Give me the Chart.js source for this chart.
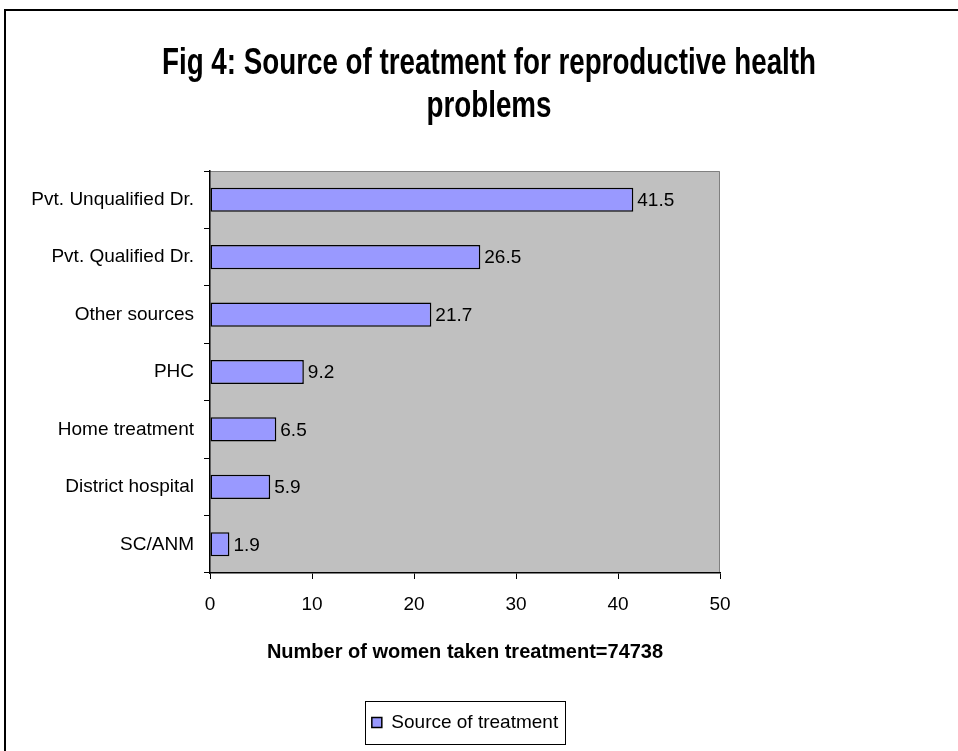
<!DOCTYPE html>
<html>
<head>
<meta charset="utf-8">
<script src="https://cdn.jsdelivr.net/npm/chart.js@4.4.1/dist/chart.umd.min.js"></script>
<style>
  html, body { margin: 0; padding: 0; background: #ffffff; }
  #wrap { position: relative; width: 958px; height: 751px; overflow: hidden; }
  #frame { position: absolute; left: 4px; top: 9px; width: 1000px; height: 800px;
           border-left: 2px solid #000; border-top: 2px solid #000; box-sizing: border-box; }
  canvas { position: absolute; left: 0; top: 0; }
</style>
</head>
<body>
<div id="wrap">
  <div id="frame"></div>
  <canvas id="c" width="958" height="751"></canvas>
</div>
<script>
// Treatment sources, listed top to bottom
const categories = [
  'Pvt. Unqualified Dr.',
  'Pvt. Qualified Dr.',
  'Other sources',
  'PHC',
  'Home treatment',
  'District hospital',
  'SC/ANM'
];
// Share of women (%) using each source
const shares = [41.5, 26.5, 21.7, 9.2, 6.5, 5.9, 1.9];
const xTicks = [0, 10, 20, 30, 40, 50];

const seriesName = 'Source of treatment';
const titleLines = ['Fig 4: Source of treatment for reproductive health', 'problems'];
const axisTitle = 'Number of women taken treatment=74738';

const FONT = "'Liberation Sans', Arial, sans-serif";

// Chart heading: tall bold face set slightly condensed
const headingPlugin = {
  id: 'heading',
  afterDraw(chart) {
    const { ctx } = chart;
    const size = 36, centerX = 489, widthLine1 = 654;
    const baselines = [74, 117];
    ctx.save();
    ctx.font = 'bold ' + size + 'px ' + FONT;
    const squeeze = widthLine1 / ctx.measureText(titleLines[0]).width;
    ctx.fillStyle = '#000';
    ctx.textAlign = 'center';
    ctx.textBaseline = 'alphabetic';
    titleLines.forEach((line, i) => {
      ctx.save();
      ctx.translate(centerX, baselines[i]);
      ctx.scale(squeeze, 1);
      ctx.fillText(line, 0, 0);
      ctx.restore();
    });
    ctx.restore();
  }
};

// Grey plot panel behind the bars
const panelPlugin = {
  id: 'panel',
  beforeDraw(chart) {
    const { ctx, chartArea: a } = chart;
    ctx.save();
    ctx.fillStyle = '#c0c0c0';
    ctx.fillRect(a.left, a.top, a.right - a.left, a.bottom - a.top);
    ctx.strokeStyle = '#808080';
    ctx.lineWidth = 1;
    ctx.beginPath();
    ctx.moveTo(a.left, a.top + 0.5);
    ctx.lineTo(a.right - 0.5, a.top + 0.5);
    ctx.lineTo(a.right - 0.5, a.bottom);
    ctx.stroke();
    ctx.restore();
  }
};

// Value printed just past the end of each bar
const valueLabels = {
  id: 'valueLabels',
  afterDatasetsDraw(chart) {
    const { ctx } = chart;
    const meta = chart.getDatasetMeta(0);
    const data = chart.data.datasets[0].data;
    ctx.save();
    ctx.font = '19px ' + FONT;
    ctx.fillStyle = '#000';
    ctx.textAlign = 'left';
    ctx.textBaseline = 'middle';
    meta.data.forEach((bar, i) => {
      ctx.fillText(String(data[i]), bar.x + 4, bar.y + 1);
    });
    ctx.restore();
  }
};

// Frame round the legend
const legendFrame = {
  id: 'legendFrame',
  afterDraw(chart) {
    const lg = chart.legend;
    if (!lg || !lg.legendHitBoxes || !lg.legendHitBoxes.length) return;
    const hb = lg.legendHitBoxes[0];
    const { ctx } = chart;
    const cy = hb.top + hb.height / 2;
    ctx.save();
    ctx.strokeStyle = '#000';
    ctx.lineWidth = 1;
    ctx.strokeRect(Math.round(hb.left - 7) + 0.5, Math.round(cy - 22) + 0.5,
                   Math.round(hb.width + 14), 43);
    ctx.restore();
  }
};

new Chart(document.getElementById('c'), {
  type: 'bar',
  data: {
    labels: categories,
    datasets: [{
      label: seriesName,
      data: shares,
      backgroundColor: '#9999ff',
      borderColor: '#000000',
      borderWidth: 1.5,
      borderSkipped: false,
      categoryPercentage: 1.0,
      barPercentage: 0.42
    }]
  },
  options: {
    indexAxis: 'y',
    responsive: false,
    animation: false,
    devicePixelRatio: 1,
    layout: { padding: { left: 0, top: 171, right: 0, bottom: 9 } },
    plugins: {
      title: { display: false },
      legend: {
        display: true,
        position: 'bottom',
        fullSize: false,
        labels: {
          color: '#000',
          font: { family: FONT, size: 19 },
          boxWidth: 10,
          boxHeight: 10,
          padding: 12
        }
      },
      tooltip: { enabled: false }
    },
    scales: {
      x: {
        type: 'linear',
        min: 0,
        max: 50,
        afterBuildTicks(s) { s.ticks = xTicks.map(v => ({ value: v })); },
        afterFit(s) { s.height = 128; },
        grid: { drawOnChartArea: false, drawTicks: true, tickLength: 6, color: '#000', lineWidth: 1 },
        border: { display: true, color: '#000', width: 1.5 },
        ticks: { color: '#000', font: { family: FONT, size: 19 }, padding: 14, maxRotation: 0 },
        title: {
          display: true,
          text: axisTitle,
          color: '#000',
          font: { family: FONT, size: 20, weight: 'bold' },
          padding: { top: 4, bottom: 37 }
        }
      },
      y: {
        type: 'category',
        offset: true,
        afterFit(s) { s.width = 210; },
        grid: { offset: true, drawOnChartArea: false, drawTicks: true, tickLength: 6, color: '#000', lineWidth: 1 },
        border: { display: true, color: '#000', width: 1.5 },
        ticks: { color: '#000', font: { family: FONT, size: 19 }, padding: 10, autoSkip: false }
      },
      spacer: {
        type: 'linear',
        position: 'right',
        display: true,
        afterFit(s) { s.width = 238; },
        grid: { display: false },
        border: { display: false },
        ticks: { display: false }
      }
    }
  },
  plugins: [panelPlugin, valueLabels, legendFrame, headingPlugin]
});
</script>
</body>
</html>
